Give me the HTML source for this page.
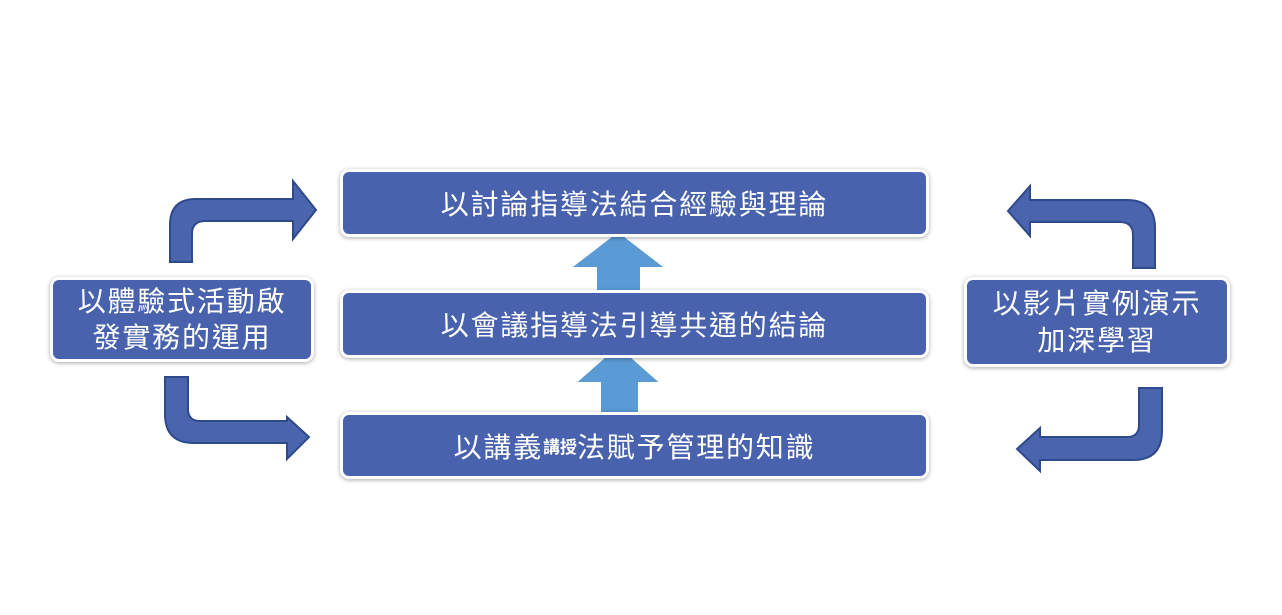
<!DOCTYPE html>
<html><head><meta charset="utf-8"><style>
html,body{margin:0;padding:0;background:#fff;width:1282px;height:615px;overflow:hidden}
.b{position:absolute;background:#4862AE;border:3px solid #fff;border-radius:9px;box-shadow:0 1px 4px rgba(0,0,0,.35);color:#fff;font-family:"Liberation Sans","Noto Sans CJK TC",sans-serif;display:flex;align-items:center;justify-content:center;text-align:center;box-sizing:border-box;font-size:28px;letter-spacing:1.8px}
</style></head><body>
<svg width="1282" height="615" style="position:absolute;left:0;top:0">
<g fill="#4A64AD" stroke="#2F4A8C" stroke-width="2" stroke-linejoin="miter">
<path d="M170,262 L170,225 Q170,199 196,199 L293,199 L293,181 L316,210 L293,239 L293,221 L205,221 Q192,221 192,234 L192,262 Z"/>
<path d="M165,377 L165,414 Q165,443 194,443 L287,443 L287,459 L309,437 L287,417 L287,421 L200,421 Q188,421 188,409 L188,377 Z"/>
<path d="M1155,268 L1155,228 Q1155,200 1127,200 L1030,200 L1030,186 L1008,211 L1030,236 L1030,222 L1120,222 Q1133,222 1133,235 L1133,268 Z"/>
<path d="M1139,388 L1139,425 Q1139,437 1127,437 L1040,437 L1040,428 L1017,449 L1040,471 L1040,460 L1133,460 Q1162,460 1162,431 L1162,388 Z"/>
</g>
<g fill="#5B9BD5" stroke="#fff" stroke-width="2">
<path d="M596,298 L596,268 L570,268 L618,231 L666,268 L641,268 L641,298 Z"/>
<path d="M600,414 L600,383 L575,383 L618,345 L661,383 L639,383 L639,414 Z"/>
</g>
</svg>
<div class="b" style="left:340px;top:169px;width:589px;height:68px">以討論指導法結合經驗與理論</div>
<div class="b" style="left:340px;top:290px;width:589px;height:68px">以會議指導法引導共通的結論</div>
<div class="b" style="left:340px;top:412px;width:589px;height:67px">以講義<span style="font-size:17px;font-weight:bold;letter-spacing:0">講授</span>法賦予管理的知識</div>
<div class="b" style="left:50px;top:277px;width:264px;height:85px;line-height:36px">以體驗式活動啟<br>發實務的運用</div>
<div class="b" style="left:964px;top:277px;width:266px;height:90px;line-height:37px">以影片實例演示<br>加深學習</div>
</body></html>
